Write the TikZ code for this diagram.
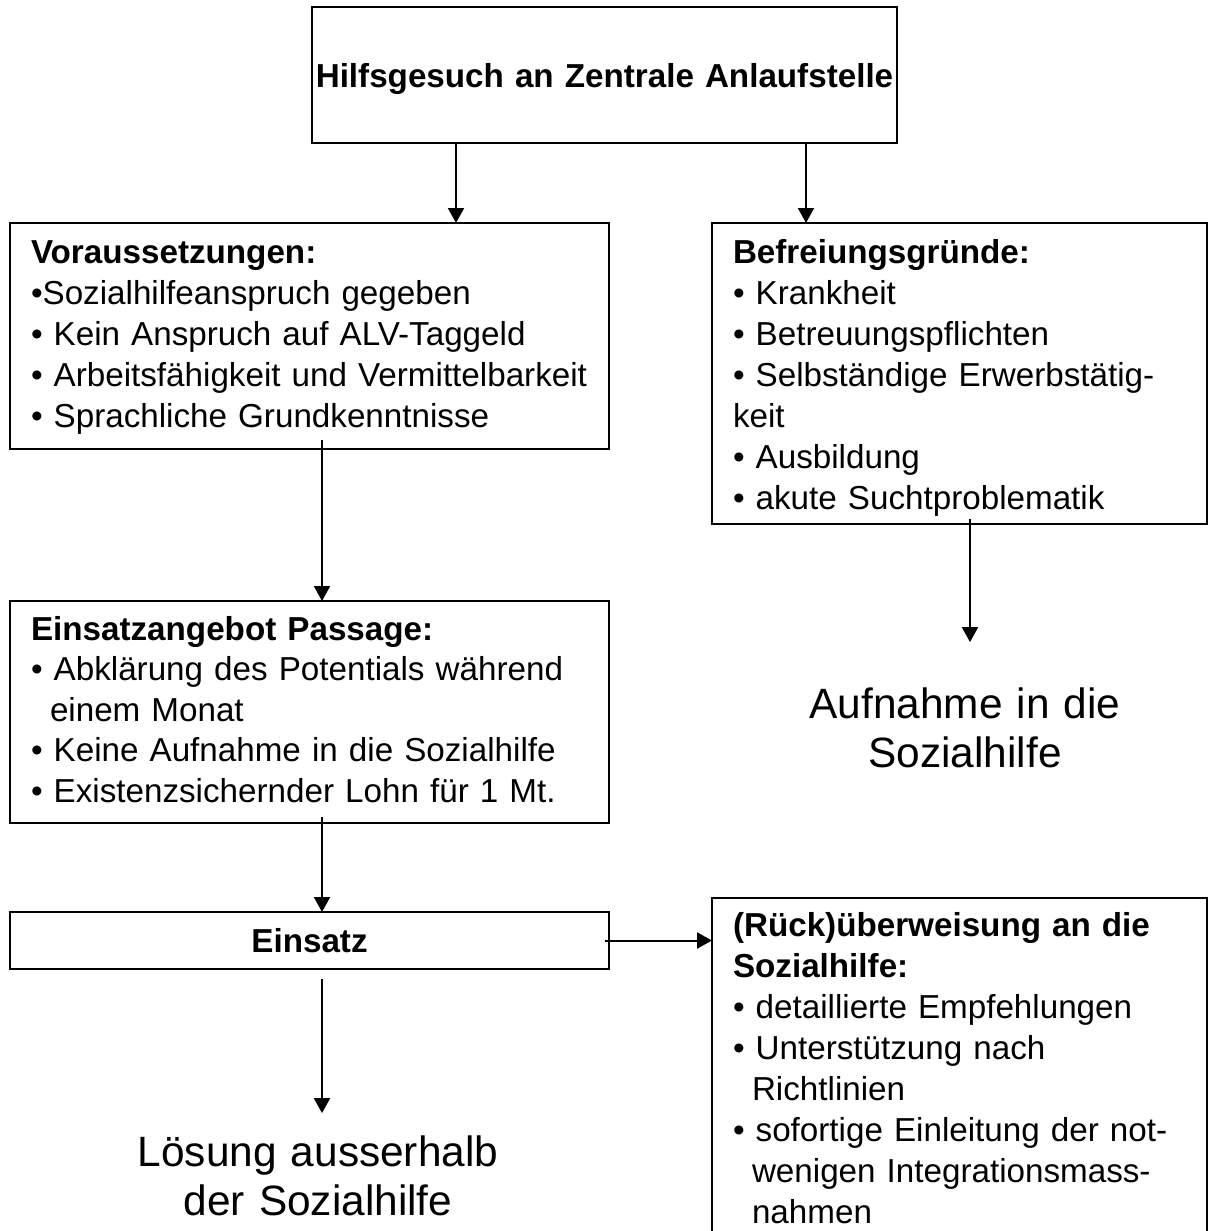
\documentclass[tikz,border=0pt]{standalone}
\usepackage{fontspec}
\setmainfont{Liberation Sans}
\usetikzlibrary{arrows.meta}
\begin{document}
\begin{tikzpicture}[x=1pt,y=-1pt,
  kasten/.style={draw,line width=2pt,anchor=north west,inner xsep=21pt,inner ysep=0pt,outer sep=0pt,align=left,font=\fontsize{33.2}{41}\selectfont},
  gross/.style={anchor=base,align=center,text width=440pt,inner sep=0pt,font=\fontsize{42.4}{49}\selectfont},
  pfeil/.style={line width=2pt,-{Triangle[width=16pt,length=15pt]}}]
\useasboundingbox (0,0) rectangle (1208,1231);
\node[kasten,inner xsep=0pt,text width=585pt,align=center,text height=81pt,text depth=55pt] (gesuch) at (312,7) {\bfseries Hilfsgesuch an Zentrale Anlaufstelle};
\node[kasten,text width=557pt,text height=40pt,text depth=186pt] (vor) at (10,223) {\textbf{Voraussetzungen:}\\•Sozialhilfeanspruch gegeben\\• Kein Anspruch auf ALV-Taggeld\\• Arbeitsfähigkeit und Vermittelbarkeit\\• Sprachliche Grundkenntnisse};
\node[kasten,text width=453pt,text height=40pt,text depth=261pt] (befr) at (712,223) {\textbf{Befreiungsgründe:}\\• Krankheit\\• Betreuungspflichten\\• Selbständige Erwerbstätig-\\keit\\• Ausbildung\\• akute Suchtproblematik};
\node[kasten,text width=557pt,text height=39pt,text depth=183pt,font=\fontsize{33.2}{40.5}\selectfont] (angebot) at (10,601) {\textbf{Einsatzangebot Passage:}\\• Abklärung des Potentials während\\\hspace*{19pt}einem Monat\\• Keine Aufnahme in die Sozialhilfe\\• Existenzsichernder Lohn für 1 Mt.};
\node[kasten,inner xsep=0pt,text width=599pt,align=center,text height=40pt,text depth=17pt] (einsatz) at (10,912) {\bfseries Einsatz};
\node[kasten,text width=453pt,text height=38pt,text depth=330pt] (rueck) at (712,898) {\textbf{(Rück)überweisung an die}\\\textbf{Sozialhilfe:}\\• detaillierte Empfehlungen\\• Unterstützung nach\\\hspace*{19pt}Richtlinien\\• sofortige Einleitung der not-\\\hspace*{19pt}wenigen Integrationsmass-\\\hspace*{19pt}nahmen};
\node[gross] (aufnahme) at (965,718) {Aufnahme in die\\Sozialhilfe};
\node[gross] (loesung) at (318,1166) {Lösung ausserhalb\\der Sozialhilfe};
% Pfeile
\draw[pfeil] ([xshift=144pt]gesuch.south west) -- ([xshift=446pt]vor.north west);
\draw[pfeil] ([xshift=494pt]gesuch.south west) -- ([xshift=94pt]befr.north west);
\draw[pfeil] ([xshift=312pt,yshift=9pt]vor.south west) -- ([xshift=312pt]angebot.north west);
\draw[pfeil] ([xshift=258pt,yshift=5pt]befr.south west) -- ([xshift=5pt,yshift=45pt]aufnahme.north);
\draw[pfeil] ([xshift=312pt,yshift=6pt]angebot.south west) -- ([xshift=312pt]einsatz.north west);
\draw[pfeil] ([xshift=-4pt]einsatz.east) -- (einsatz.east -| rueck.west);
\draw[pfeil] ([xshift=312pt,yshift=-10pt]einsatz.south west) -- ([xshift=4pt,yshift=22pt]loesung.north);
\end{tikzpicture}
\end{document}
